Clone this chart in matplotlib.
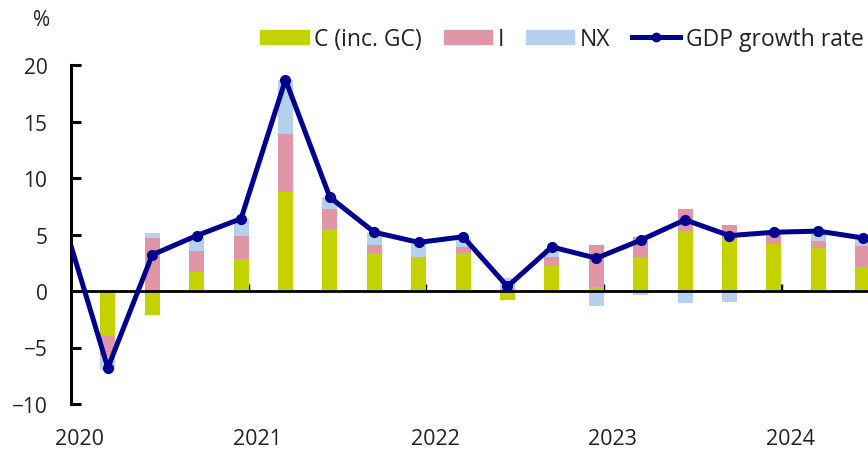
import numpy as np
import matplotlib
matplotlib.use("Agg")
from matplotlib import pyplot as plt
from matplotlib.patches import Patch
from matplotlib.lines import Line2D
import matplotlib.transforms as mtransforms

# quarterly contributions to GDP growth, 2020Q1 - 2024Q2 (pp)
quarters = ['2020Q1', '2020Q2', '2020Q3', '2020Q4',
            '2021Q1', '2021Q2', '2021Q3', '2021Q4',
            '2022Q1', '2022Q2', '2022Q3', '2022Q4',
            '2023Q1', '2023Q2', '2023Q3', '2023Q4',
            '2024Q1', '2024Q2']
cons = [-4.0, -2.15, 1.65, 2.87, 8.76, 5.49, 3.34, 3.0, 3.4, -0.82,
        2.3, 0.33, 3.04, 5.31, 4.72, 4.13, 3.84, 2.12]
inv = [-1.75, 4.7, 1.92, 1.97, 5.1, 1.77, 0.73, 0.05, 0.5, 0.15,
       0.68, 3.74, 1.74, 1.98, 1.12, 0.83, 0.62, 1.86]
nx = [-1.2, 0.47, 1.2, 1.5, 4.8, 1.03, 1.1, 1.1, 0.82, 1.0,
      0.7, -1.33, -0.35, -1.09, -1.0, 0.25, 0.8, 0.66]

# GDP growth line starts one quarter earlier (2019Q4)
gdp_quarters = ['2019Q4'] + quarters
gdp = [6.2, -6.8, 3.2, 4.9, 6.4, 18.7, 8.3, 5.2, 4.3, 4.8, 0.4,
       3.9, 2.9, 4.5, 6.3, 4.9, 5.2, 5.3, 4.7]

years = ['2020', '2021', '2022', '2023', '2024']

green = '#C4D200'
pink = '#E196A8'
blue = '#B6D1EE'
navy = '#000090'

plt.rcParams['font.family'] = ['Open Sans', 'DejaVu Sans']
plt.rcParams['text.color'] = '#222222'

fig = plt.figure(figsize=(8.68, 4.52), dpi=100)
ax = fig.add_axes([71 / 868, 47 / 452, 1 - 71 / 868, 339 / 452])

x = np.arange(len(quarters))
xg = np.arange(len(gdp_quarters)) - 1

pos_bottom = np.zeros(len(x))
neg_bottom = np.zeros(len(x))
for vals, col in [(cons, green), (inv, pink), (nx, blue)]:
    v = np.array(vals)
    bottom = np.where(v >= 0, pos_bottom, neg_bottom)
    ax.bar(x, v, bottom=bottom, width=0.34, color=col, zorder=2)
    pos_bottom = pos_bottom + np.where(v >= 0, v, 0)
    neg_bottom = neg_bottom + np.where(v < 0, v, 0)

ax.plot(xg, gdp, color=navy, lw=3.6, marker='o', markersize=7, zorder=4)

ax.set_xlim(-0.83, 17.12)
ax.set_ylim(-10, 20)

for s in ['top', 'right']:
    ax.spines[s].set_visible(False)
ax.spines['left'].set_linewidth(2.2)
ax.spines['bottom'].set_position(('data', 0))
ax.spines['bottom'].set_linewidth(2.0)
ax.spines['bottom'].set_zorder(3)

ax.set_yticks(range(-10, 21, 5))
ax.tick_params(axis='y', direction='in', length=7, width=2.2, pad=17,
               labelsize=15, labelcolor='#222222')

year_ticks = [3.15 + 4 * k for k in range(4)]
ax.set_xticks(year_ticks)
ax.tick_params(axis='x', direction='in', length=5, width=2.5, labelbottom=False)

trans = mtransforms.blended_transform_factory(ax.transData, ax.transAxes)
for k, yr in enumerate(years):
    ax.text(-0.63 + 4 * k, -0.103, yr, transform=trans, ha='center', va='center',
            fontsize=15.5, clip_on=False)

fig.text(42 / 868, 1 - 20 / 452, '%', ha='center', va='center', fontsize=15)

handles = [Patch(color=green, label='C (inc. GC)'),
           Patch(color=pink, label='I'),
           Patch(color=blue, label='NX'),
           Line2D([], [], color=navy, lw=3.6, marker='o', markersize=6,
                  label='GDP growth rate')]
fig.legend(handles=handles, loc='center right', bbox_to_anchor=(0.995, 1 - 40 / 452),
           ncol=4, frameon=False, fontsize=16.5, handlelength=2.1, handleheight=0.6,
           handletextpad=0.25, columnspacing=0.95, borderaxespad=0, borderpad=0)

fig.savefig('out.png', dpi=100)
